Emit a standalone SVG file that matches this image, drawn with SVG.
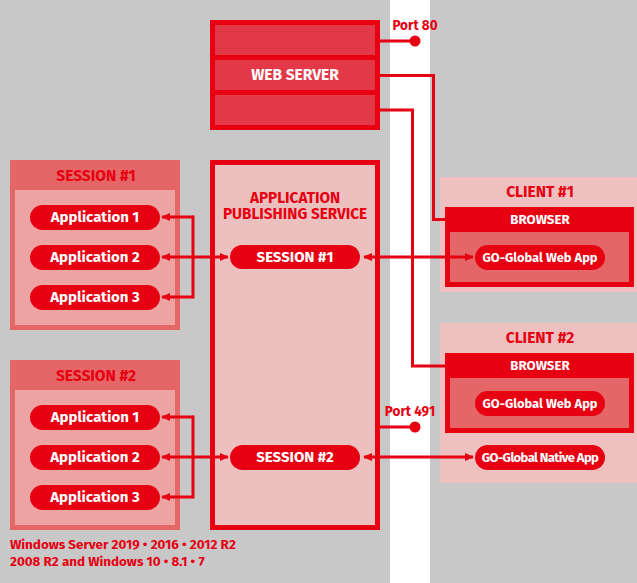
<svg xmlns="http://www.w3.org/2000/svg" width="637" height="583" viewBox="0 0 637 583">
<defs>
<marker id="ae" viewBox="0 0 10 10" refX="9" refY="5" markerWidth="9" markerHeight="9" orient="auto" markerUnits="userSpaceOnUse">
<path d="M0,0.5 L10,5 L0,9.5 z" fill="#e60012"/>
</marker>
<marker id="as" viewBox="0 0 10 10" refX="1" refY="5" markerWidth="9" markerHeight="9" orient="auto" markerUnits="userSpaceOnUse">
<path d="M10,0.5 L0,5 L10,9.5 z" fill="#e60012"/>
</marker>
</defs>
<style>
text{font-family:"Fira Sans","Noto Sans","Open Sans","Liberation Sans",sans-serif;font-weight:bold;text-anchor:middle}
.w{fill:#fff;font-size:15px}
.r{fill:#e60012}
.pill{fill:#e60012}
.ln{fill:none;stroke:#e60012;stroke-width:3}
.sess{fill:#e56666}
.sin{fill:#eea3a3}
.cli{fill:#efc0c0}
.cell{fill:#e23848}
</style>
<rect width="637" height="583" fill="#c8c8c8"/>
<rect x="390" y="0" width="40" height="583" fill="#fff"/>

<g id="port80"><text x="415" y="30" class="r" style="font-size:13.5px">Port 80</text></g>
<g id="port491"><text x="410" y="416" class="r" style="font-size:13.5px">Port 491</text></g>

<g id="webserver">
<rect x="210" y="20" width="170" height="110" fill="#e60012"/>
<rect class="cell" x="215" y="25" width="160" height="30"/>
<rect class="cell" x="215" y="60" width="160" height="30"/>
<rect class="cell" x="215" y="95" width="160" height="30"/>
<text x="295" y="80" class="w" style="font-size:15.5px">WEB SERVER</text>
</g>

<g id="session1">
<rect class="sess" x="10" y="160" width="170" height="170"/>
<rect class="sin" x="15" y="190" width="160" height="135"/>
<text x="96" y="181" class="r" style="font-size:15.5px">SESSION #1</text>
<rect class="pill" x="30" y="205" width="130" height="25" rx="12.5"/>
<text x="95" y="222" class="w">Application 1</text>
<rect class="pill" x="30" y="245" width="130" height="25" rx="12.5"/>
<text x="95" y="262" class="w">Application 2</text>
<rect class="pill" x="30" y="285" width="130" height="25" rx="12.5"/>
<text x="95" y="302" class="w">Application 3</text>
</g>

<g id="session2">
<rect class="sess" x="10" y="360" width="170" height="170"/>
<rect class="sin" x="15" y="390" width="160" height="135"/>
<text x="96" y="381" class="r" style="font-size:15.5px">SESSION #2</text>
<rect class="pill" x="30" y="405" width="130" height="25" rx="12.5"/>
<text x="95" y="422" class="w">Application 1</text>
<rect class="pill" x="30" y="445" width="130" height="25" rx="12.5"/>
<text x="95" y="462" class="w">Application 2</text>
<rect class="pill" x="30" y="485" width="130" height="25" rx="12.5"/>
<text x="95" y="502" class="w">Application 3</text>
</g>

<g id="aps">
<rect x="212.5" y="162.5" width="165" height="365" fill="#edc0c0" stroke="#e60012" stroke-width="5"/>
<text class="r" style="font-size:15.3px"><tspan x="295" y="202.5">APPLICATION</tspan><tspan x="295" y="218.5">PUBLISHING SERVICE</tspan></text>
<rect class="pill" x="230" y="245" width="130" height="24" rx="12"/>
<text x="295" y="262" class="w">SESSION #1</text>
<rect class="pill" x="230" y="445" width="130" height="25" rx="12.5"/>
<text x="295" y="462" class="w">SESSION #2</text>
</g>

<g id="client1">
<rect class="cli" x="440" y="177" width="197" height="115"/>
<text x="540" y="197" class="r" style="font-size:15.5px">CLIENT #1</text>
<rect x="445" y="207" width="189" height="80" fill="#e60012"/>
<text x="540" y="224" class="w" style="font-size:13.3px">BROWSER</text>
<rect class="sess" x="450" y="232" width="179" height="50"/>
<rect class="pill" x="475" y="245" width="130" height="25" rx="12.5"/>
<text x="540" y="262" class="w" style="font-size:12.9px">GO-Global Web App</text>
</g>

<g id="client2">
<rect class="cli" x="440" y="323" width="197" height="160"/>
<text x="540" y="343" class="r" style="font-size:15.5px">CLIENT #2</text>
<rect x="445" y="353" width="189" height="80" fill="#e60012"/>
<text x="540" y="370" class="w" style="font-size:13.3px">BROWSER</text>
<rect class="sess" x="450" y="378" width="179" height="50"/>
<rect class="pill" x="475" y="391" width="130" height="25" rx="12.5"/>
<text x="540" y="408" class="w" style="font-size:12.9px">GO-Global Web App</text>
<rect class="pill" x="475" y="445" width="130" height="25" rx="12.5"/>
<text x="540" y="462" class="w" style="font-size:13px" letter-spacing="-0.6">GO-Global Native App</text>
</g>

<g id="connectors">
<path class="ln" d="M380,41 H415"/>
<circle cx="415" cy="41" r="5.5" fill="#e60012"/>
<path class="ln" d="M380,75.5 H433.5 V219.5 H446"/>
<path class="ln" d="M380,110 H412.5 V366 H446"/>
<path class="ln" d="M380,427 H415"/>
<circle cx="415" cy="427" r="5.5" fill="#e60012"/>
<path class="ln" d="M364,257 H473" marker-start="url(#as)" marker-end="url(#ae)"/>
<path class="ln" d="M364,457 H473" marker-start="url(#as)" marker-end="url(#ae)"/>
<path class="ln" d="M162,257 H228" marker-start="url(#as)" marker-end="url(#ae)"/>
<path class="ln" d="M193,217 H162" marker-end="url(#ae)"/>
<path class="ln" d="M193,297 H162" marker-end="url(#ae)"/>
<path class="ln" d="M193,215.5 V298.5"/>
<path class="ln" d="M162,457 H228" marker-start="url(#as)" marker-end="url(#ae)"/>
<path class="ln" d="M193,417 H162" marker-end="url(#ae)"/>
<path class="ln" d="M193,497 H162" marker-end="url(#ae)"/>
<path class="ln" d="M193,415.5 V498.5"/>
</g>

<g id="footer">
<text x="10" y="549" class="r" style="font-size:13.4px;text-anchor:start">Windows Server 2019 • 2016 • 2012 R2</text>
<text x="10" y="566" class="r" style="font-size:13.4px;text-anchor:start">2008 R2 and Windows 10 • 8.1 • 7</text>
</g>
</svg>
